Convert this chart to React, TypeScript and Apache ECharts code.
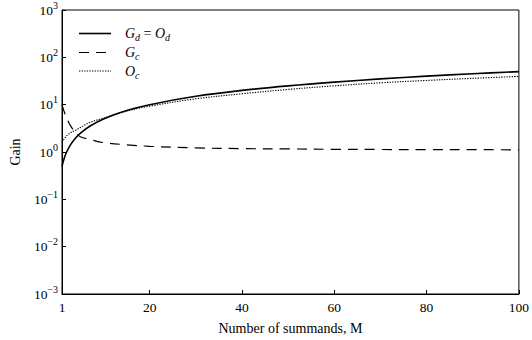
import React, { useEffect, useRef } from "react";
import * as echarts from "echarts";

const summands = [1, 1.5, 2, 3, 4, 5, 7, 10, 15, 20, 30, 40, 50, 60, 70, 80, 90, 100];
const gainDistributed = [0.5, 0.75, 1.0, 1.5, 2.0, 2.5, 3.5, 5, 7.5, 10, 15, 20, 25, 30, 35, 40, 45, 50];
const gainCentral = [10, 7, 5.2, 3.4, 2.5, 2.1, 1.85, 1.58, 1.42, 1.32, 1.22, 1.18, 1.16, 1.14, 1.13, 1.12, 1.12, 1.11];
const outputCentral = [1.6, 1.9, 2.2, 2.6, 2.9, 3.3, 4.2, 5.2, 7.3, 9.3, 13.3, 17, 21, 25, 29, 32.5, 36, 39.5];
const xTicks = [1, 20, 40, 60, 80, 100];
const seriesNames = ["Gd = Od", "Gc", "Oc"];
const legendLabels = [
  "{i|G}{s|d}{n| = }{i|O}{s|d}",
  "{i|G}{s|c}",
  "{i|O}{s|c}",
];
const lineDashes: (number[] | null)[] = [null, [10, 7], [1.3, 1.3]];
const lineWidths = [1.6, 1.2, 1.1];

const FONT = "'Liberation Serif', 'Times New Roman', serif";

export default function App() {
  const ref = useRef<HTMLDivElement>(null);
  useEffect(() => {
    if (!ref.current) return;
    const chart = echarts.init(ref.current, undefined, { renderer: "svg" });
    const pairs = (ys: number[]) => summands.map((m, i) => [m, ys[i]]);
    const supMinus = (n: number) => (n < 0 ? "\u2212" + Math.abs(n) : String(n));
    const legendRich = {
      i: { fontFamily: FONT, fontStyle: "italic", fontSize: 14, fill: "#000", lineHeight: 18, verticalAlign: "middle" },
      n: { fontFamily: FONT, fontSize: 14, fill: "#000", lineHeight: 18, verticalAlign: "middle" },
      s: { fontFamily: FONT, fontStyle: "italic", fontSize: 10, fill: "#000", lineHeight: 18, verticalAlign: "bottom" },
    };
    const rowsY = [33.5, 52.5, 71];
    const legendGraphics: any[] = [];
    rowsY.forEach((y, k) => {
      legendGraphics.push({
        type: "line",
        shape: { x1: 79, y1: y, x2: 111, y2: y },
        style: {
          stroke: "#000",
          lineWidth: lineWidths[k],
          lineDash: lineDashes[k] || undefined,
        },
        silent: true,
      });
      legendGraphics.push({
        type: "text",
        x: 125,
        y: y,
        style: {
          text: legendLabels[k],
          rich: legendRich,
          verticalAlign: "middle",
          align: "left",
          fill: "#000",
        },
        silent: true,
      });
    });
    chart.setOption({
      animation: false,
      backgroundColor: "#fff",
      textStyle: { fontFamily: FONT, color: "#000" },
      grid: {
        left: 58,
        right: 12,
        top: 10,
        bottom: 45,
        show: true,
        borderColor: "#000",
        borderWidth: 1,
      },
      graphic: legendGraphics,
      xAxis: {
        type: "value",
        min: 1,
        max: 100,
        name: "Number of summands, M",
        nameLocation: "middle",
        nameGap: 27,
        nameTextStyle: { fontFamily: FONT, fontSize: 14, color: "#000" },
        splitLine: { show: false },
        axisLine: { lineStyle: { color: "#000", width: 1 } },
        axisTick: { inside: true, length: 4, lineStyle: { color: "#000" }, customValues: xTicks },
        axisLabel: { fontFamily: FONT, fontSize: 13.5, color: "#000", margin: 6, customValues: xTicks },
      },
      yAxis: {
        type: "log",
        logBase: 10,
        min: 0.001,
        max: 1000,
        splitNumber: 6,
        name: "Gain",
        nameLocation: "middle",
        nameGap: 40,
        nameTextStyle: { fontFamily: FONT, fontSize: 14, color: "#000" },
        splitLine: { show: false },
        axisLine: { show: true, lineStyle: { color: "#000", width: 1 } },
        axisTick: { inside: true, length: 4, lineStyle: { color: "#000" } },
        axisLabel: {
          margin: 4,
          formatter: (v: number) => "{b|10}{p|" + supMinus(Math.round(Math.log10(v))) + "}",
          rich: {
            b: { fontFamily: FONT, fontSize: 13.5, color: "#000", lineHeight: 20, verticalAlign: "middle" },
            p: { fontFamily: FONT, fontSize: 10, color: "#000", lineHeight: 20, verticalAlign: "top" },
          },
        },
      },
      series: seriesNames.map((name, k) => ({
        name,
        type: "line",
        data: pairs([gainDistributed, gainCentral, outputCentral][k]),
        showSymbol: false,
        symbol: "none",
        smooth: 0.35,
        lineStyle: { color: "#000", width: lineWidths[k], type: lineDashes[k] || "solid" },
        itemStyle: { color: "#000" },
      })),
    });
    return () => chart.dispose();
  }, []);
  return <div ref={ref} style={{ width: 532, height: 340, position: "absolute", left: 0, top: 0 }} />;
}
